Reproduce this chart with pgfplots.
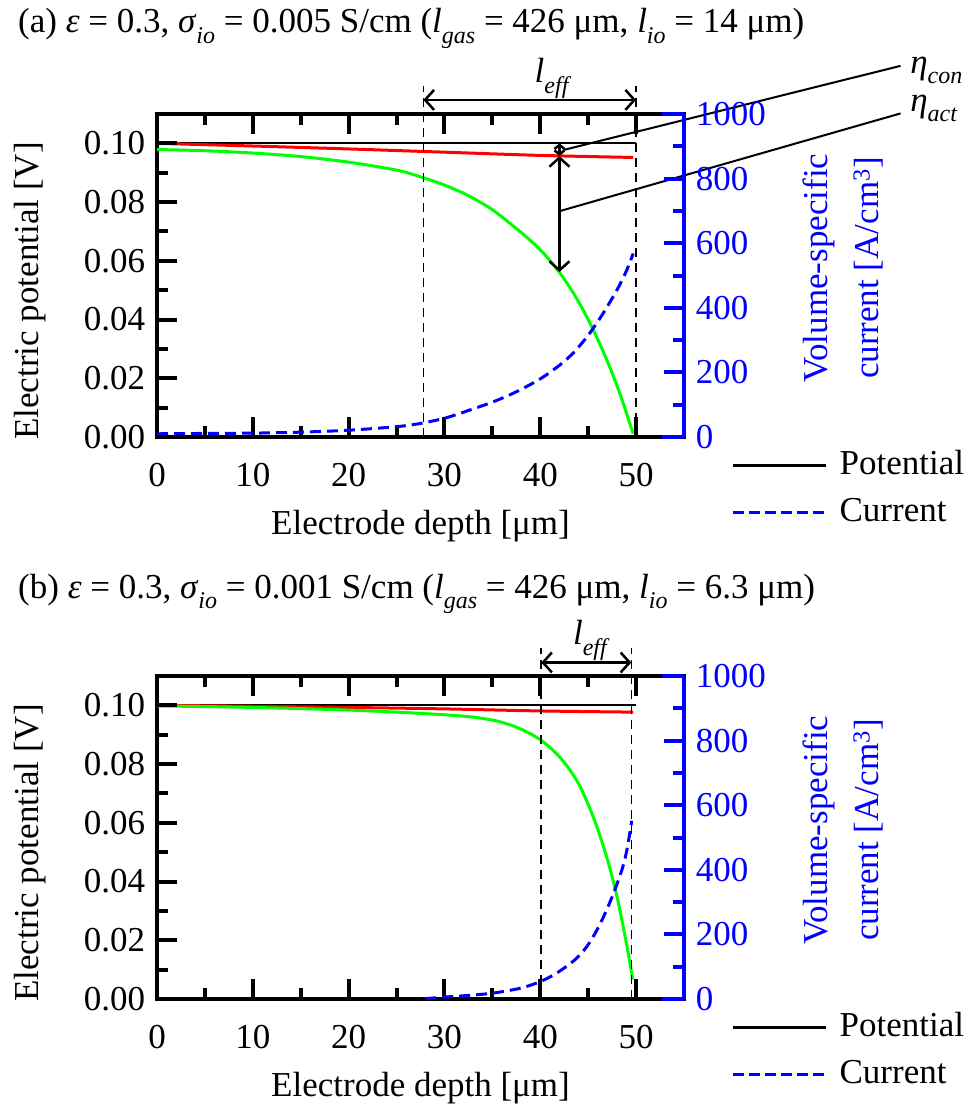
\documentclass[border=0pt]{standalone}
\usepackage{pgfplots}
\pgfplotsset{compat=1.18}
\usepackage{fontspec}
\setmainfont{Liberation Serif}
\usetikzlibrary{arrows.meta}
\newcommand{\sub}[1]{\raisebox{-0.3em}{\fontsize{24}{24}\selectfont\itshape #1}}
\tikzset{
 dl/.style={line width=1.6pt, dash pattern=on 9pt off 6pt},
 ar/.style={line width=2.5pt, {Straight Barb[length=9pt,width=20pt]}-{Straight Barb[length=9pt,width=20pt]}},
}
\newcommand{\potticks}{%
 \draw[line width=4pt, black]
  (axis cs:10,0) -- (axis cs:10,0.0068) (axis cs:20,0) -- (axis cs:20,0.0068)
  (axis cs:30,0) -- (axis cs:30,0.0068) (axis cs:40,0) -- (axis cs:40,0.0068)
  (axis cs:50,0) -- (axis cs:50,0.0068)
  (axis cs:10,0.11) -- (axis cs:10,0.1032) (axis cs:20,0.11) -- (axis cs:20,0.1032)
  (axis cs:30,0.11) -- (axis cs:30,0.1032) (axis cs:40,0.11) -- (axis cs:40,0.1032)
  (axis cs:50,0.11) -- (axis cs:50,0.1032)
  (axis cs:5,0) -- (axis cs:5,0.00375) (axis cs:15,0) -- (axis cs:15,0.00375)
  (axis cs:25,0) -- (axis cs:25,0.00375) (axis cs:35,0) -- (axis cs:35,0.00375)
  (axis cs:45,0) -- (axis cs:45,0.00375)
  (axis cs:5,0.11) -- (axis cs:5,0.10625) (axis cs:15,0.11) -- (axis cs:15,0.10625)
  (axis cs:25,0.11) -- (axis cs:25,0.10625) (axis cs:35,0.11) -- (axis cs:35,0.10625)
  (axis cs:45,0.11) -- (axis cs:45,0.10625)
  (axis cs:0,0.02) -- (axis cs:2.09,0.02) (axis cs:0,0.04) -- (axis cs:2.09,0.04)
  (axis cs:0,0.06) -- (axis cs:2.09,0.06) (axis cs:0,0.08) -- (axis cs:2.09,0.08)
  (axis cs:0,0.10) -- (axis cs:2.09,0.10)
  (axis cs:0,0.01) -- (axis cs:1.15,0.01) (axis cs:0,0.03) -- (axis cs:1.15,0.03)
  (axis cs:0,0.05) -- (axis cs:1.15,0.05) (axis cs:0,0.07) -- (axis cs:1.15,0.07)
  (axis cs:0,0.09) -- (axis cs:1.15,0.09);
}
\newcommand{\curticks}{%
 \draw[line width=4pt, blue]
  (axis cs:55,200) -- (axis cs:52.91,200) (axis cs:55,400) -- (axis cs:52.91,400)
  (axis cs:55,600) -- (axis cs:52.91,600) (axis cs:55,800) -- (axis cs:52.91,800)
  (axis cs:55,100) -- (axis cs:53.85,100) (axis cs:55,300) -- (axis cs:53.85,300)
  (axis cs:55,500) -- (axis cs:53.85,500) (axis cs:55,700) -- (axis cs:53.85,700)
  (axis cs:55,900) -- (axis cs:53.85,900)
  (axis cs:52.7,0) -- (axis cs:55,0) (axis cs:52.7,1000) -- (axis cs:55,1000);
}
\pgfplotsset{
 pot/.style={
  scale only axis, width=527pt, height=323pt,
  xmin=0, xmax=55, ymin=0, ymax=0.11, clip=false,
  axis line style={line width=4pt},
  xtick={0,10,...,50}, minor xtick={5,15,...,45},
  ytick={0,0.02,0.04,0.06,0.08,0.1}, minor ytick={0.01,0.03,0.05,0.07,0.09},
  xtick pos=both, ytick pos=left, xticklabel pos=lower,
  tick align=inside, major tick length=0pt, minor tick length=0pt,
  /pgf/number format/assume math mode=true,
  xticklabel style={yshift=-14pt},
  yticklabel style={/pgf/number format/.cd, fixed, fixed zerofill, precision=2},
  xlabel={Electrode depth [μm]}, ylabel={Electric potential [V]},
  xlabel style={at={(axis description cs:0.5,-0.277)}, anchor=center},
  ylabel style={at={(axis description cs:-0.241,0.452)}, anchor=center},
 },
 cur/.style={
  scale only axis, width=527pt, height=323pt,
  xmin=0, xmax=55, ymin=0, ymax=1000, clip=false,
  axis x line=none, axis y line*=right,
  y axis line style={blue, line width=4pt},
  ytick={0,200,...,1000}, minor ytick={100,300,...,900},
  tick align=inside, major tick length=0pt, minor tick length=0pt,
  yticklabel style={blue, /pgf/number format/1000 sep={}},
  /pgf/number format/assume math mode=true,
  ylabel={Volume-specific\\current [A/cm\textsuperscript{3}]},
  ylabel style={blue, align=center, at={(axis description cs:1.302,0.523)}, anchor=center, font={\fontsize{35}{51}\selectfont}},
  legend style={draw=none, fill=none, at={(axis description cs:1.09,-0.035)}, anchor=north west, row sep=14pt, inner sep=0pt,
    /tikz/every odd column/.append style={column sep=10pt}},
  legend cell align=left,
  legend image code/.code={\draw[#1] (0pt,0pt) -- (93pt,0pt);},
 },
}
\begin{document}
\fontsize{35}{42}\selectfont
\begin{tikzpicture}
\useasboundingbox (0,0) rectangle (968pt,-1110pt);
\node[anchor=base west, inner sep=0pt] at (18pt,-33pt) {(a) \textit{ε} = 0.3, \textit{σ}\sub{io} = 0.005 S/cm (\textit{l}\sub{gas} = 426 μm, \textit{l}\sub{io} = 14 μm)};
\node[anchor=base west, inner sep=0pt] at (18pt,-598pt) {(b) \textit{ε} = 0.3, \textit{σ}\sub{io} = 0.001 S/cm (\textit{l}\sub{gas} = 426 μm, \textit{l}\sub{io} = 6.3 μm)};

% ---------------- (a) ----------------
\begin{axis}[pot, at={(157pt,-437pt)}, anchor=south west]
\addplot[black, line width=2pt] coordinates {(0,0.1) (50,0.1)};
\addplot[red, line width=3pt, smooth] coordinates {
(0,0.1000) (10,0.0991) (20,0.0981) (30,0.0970) (40,0.0959) (49.7,0.0952)};
\addplot[green, line width=3pt, smooth] coordinates {
(0,0.0979) (5,0.0975) (10,0.0967) (15,0.0955) (20,0.0936) (25,0.0909)
(27.5,0.0886) (30,0.0858) (32.5,0.0822) (35,0.0774) (37.5,0.0710) (38.5,0.0683)
(39.5,0.0653) (40.5,0.0620) (41.5,0.0582) (42.5,0.0538) (43.5,0.0488) (44.5,0.0431)
(45.5,0.0367) (46.5,0.0296) (47.5,0.0218) (48.5,0.0130) (49.5,0.0030) (49.7,0.0012)};
\potticks
\draw[dl] (axis cs:27.8,0) -- (axis cs:27.8,0.1195);
\draw[dl] (axis cs:50,0) -- (axis cs:50,0.1195);
\draw[ar] (axis cs:27.8,0.1148) -- (axis cs:50,0.1148);
\node[anchor=base west, inner sep=0pt] at (axis cs:39.4,0.1207) {\textit{l}\sub{eff}};
\draw[line width=2.5pt, {Straight Barb[length=4pt,width=10pt]}-{Straight Barb[length=4pt,width=10pt]}] (axis cs:42,0.1) -- (axis cs:42,0.0957);
\draw[ar] (axis cs:42,0.0957) -- (axis cs:42,0.0562);
\draw[line width=2pt] (axis cs:42.5,0.0978) -- (axis cs:77.6,0.1264);
\draw[line width=2pt] (axis cs:42,0.0769) -- (axis cs:77.6,0.1102);
\node[anchor=base west, inner sep=0pt] at (axis cs:78.6,0.1238) {\textit{η}\sub{con}};
\node[anchor=base west, inner sep=0pt] at (axis cs:78.6,0.1109) {\textit{η}\sub{act}};
\end{axis}
\begin{axis}[cur, at={(157pt,-437pt)}, anchor=south west]
\addlegendimage{black, line width=3pt}
\addlegendentry{Potential}
\addlegendimage{blue, line width=3pt, dash pattern=on 11pt off 5pt}
\addlegendentry{Current}
\addplot[blue, line width=3pt, dash pattern=on 11pt off 6pt, smooth, forget plot] coordinates {
(0,10) (5,11) (10,12) (15,15) (20,21) (25,32) (27.5,42) (30,58) (32,77) (35,108)
(37.5,140) (40,180) (42,222) (43.5,262) (45,315) (46.5,380) (48,455) (49,515) (49.7,568)};
\curticks
\end{axis}

% ---------------- (b) ----------------
\begin{axis}[pot, at={(157pt,-999pt)}, anchor=south west]
\addplot[black, line width=2pt] coordinates {(0,0.1) (50,0.1)};
\addplot[red, line width=3pt, smooth] coordinates {
(0,0.1000) (10,0.0997) (20,0.0993) (30,0.0988) (40,0.0981) (49.7,0.0977)};
\addplot[green, line width=3pt, smooth] coordinates {
(0,0.0998) (5,0.0996) (10,0.0993) (15,0.0989) (20,0.0984) (25,0.0977) (30,0.0968)
(33,0.0960) (35,0.0950) (36,0.0942) (37,0.0932) (38,0.0919) (39,0.0903) (40,0.0883)
(41,0.0857) (42,0.0825) (43,0.0784) (44,0.0733) (45,0.0663) (46,0.0578) (47,0.0476)
(48,0.0350) (49,0.0188) (49.65,0.0066)};
\potticks
\draw[dl] (axis cs:40.1,0) -- (axis cs:40.1,0.1197);
\draw[dl] (axis cs:49.5,0) -- (axis cs:49.5,0.1197);
\draw[ar] (axis cs:40.1,0.1146) -- (axis cs:49.5,0.1146);
\node[anchor=base west, inner sep=0pt] at (axis cs:43.4,0.1207) {\textit{l}\sub{eff}};
\end{axis}
\begin{axis}[cur, at={(157pt,-999pt)}, anchor=south west]
\addlegendimage{black, line width=3pt}
\addlegendentry{Potential}
\addlegendimage{blue, line width=3pt, dash pattern=on 11pt off 5pt}
\addlegendentry{Current}
\addplot[blue, line width=3pt, dash pattern=on 11pt off 6pt, smooth, forget plot] coordinates {
(28,1) (30,6) (32,10) (35,18) (38,34) (40,54) (41.7,80) (43.6,121) (44.85,162)
(45.9,213) (46.76,265) (47.63,326) (48.5,398) (49.03,460) (49.55,552)};
\curticks
\end{axis}
\end{tikzpicture}
\end{document}
